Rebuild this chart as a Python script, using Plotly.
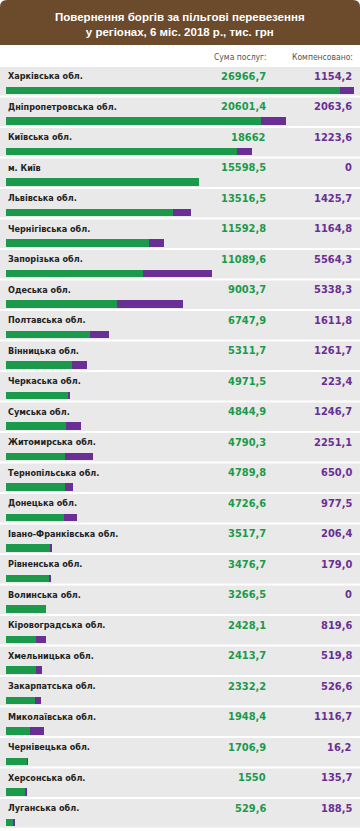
import plotly.graph_objects as go

regions = [
    "Харківська обл.", "Дніпропетровська обл.", "Київська обл.", "м. Київ",
    "Львівська обл.", "Чернігівська обл.", "Запорізька обл.", "Одеська обл.",
    "Полтавська обл.", "Вінницька обл.", "Черкаська обл.", "Сумська обл.",
    "Житомирська обл.", "Тернопільська обл.", "Донецька обл.",
    "Івано-Франківська обл.", "Рівненська обл.", "Волинська обл.",
    "Кіровоградська обл.", "Хмельницька обл.", "Закарпатська обл.",
    "Миколаївська обл.", "Чернівецька обл.", "Херсонська обл.", "Луганська обл.",
]
services = [
    26966.7, 20601.4, 18662, 15598.5, 13516.5, 11592.8, 11089.6, 9003.7,
    6747.9, 5311.7, 4971.5, 4844.9, 4790.3, 4789.8, 4726.6, 3517.7,
    3476.7, 3266.5, 2428.1, 2413.7, 2332.2, 1948.4, 1706.9, 1550, 529.6,
]
compensated = [
    1154.2, 2063.6, 1223.6, 0, 1425.7, 1164.8, 5564.3, 5338.3,
    1611.8, 1261.7, 223.4, 1246.7, 2251.1, 650.0, 977.5, 206.4,
    179.0, 0, 819.6, 519.8, 526.6, 1116.7, 16.2, 135.7, 188.5,
]
services_text = [
    "26966,7", "20601,4", "18662", "15598,5", "13516,5", "11592,8", "11089,6",
    "9003,7", "6747,9", "5311,7", "4971,5", "4844,9", "4790,3", "4789,8",
    "4726,6", "3517,7", "3476,7", "3266,5", "2428,1", "2413,7", "2332,2",
    "1948,4", "1706,9", "1550", "529,6",
]
compensated_text = [
    "1154,2", "2063,6", "1223,6", "0", "1425,7", "1164,8", "5564,3", "5338,3",
    "1611,8", "1261,7", "223,4", "1246,7", "2251,1", "650,0", "977,5", "206,4",
    "179,0", "0", "819,6", "519,8", "526,6", "1116,7", "16,2", "135,7", "188,5",
]
title = "Повернення боргів за пільгові перевезення<br>у регіонах, 6 міс. 2018 р., тис. грн"
col_headers = ["Сума послуг:", "Компенсовано:"]

W, H = 360, 831
GREEN = "#1c9a4b"
PURPLE = "#6a2f94"
BROWN = "#6c4a2c"
BAND = "#e9e9e9"
FONT = "Liberation Sans Narrow, DejaVu Sans Condensed, Arial Narrow, sans-serif"

n = len(regions)
idx = list(range(n))
top_px, bottom_px = 67, 829.5
x0_px, x1_px = 6, 354

def px_x(p):
    return p / W

def px_y(p):
    return 1 - p / H

fig = go.Figure()
fig.add_trace(go.Bar(
    y=idx, x=services, orientation="h", marker=dict(color=GREEN, line=dict(width=0)),
    width=0.25, offset=0.14, hoverinfo="skip", name="Сума послуг",
))
fig.add_trace(go.Bar(
    y=idx, x=compensated, orientation="h", marker=dict(color=PURPLE, line=dict(width=0)),
    width=0.25, offset=0.14, hoverinfo="skip", name="Компенсовано",
))

total_max = max(s + c for s, c in zip(services, compensated))

shapes = []
r = 7
tb = 45
rx, ry = r / W, r / H
path = (
    f"M 0,{px_y(tb)} L 0,{1 - ry} Q 0,1 {rx},1 L {1 - rx},1 Q 1,1 1,{1 - ry} "
    f"L 1,{px_y(tb)} Z"
)
shapes.append(dict(type="path", path=path, xref="paper", yref="paper",
                   fillcolor=BROWN, line=dict(width=0), layer="below"))
gap = 2 / ((bottom_px - top_px) / n)
for i in idx:
    shapes.append(dict(type="rect", xref="paper", yref="y", x0=0, x1=1,
                       y0=i - 0.5, y1=i + 0.5 - gap, fillcolor=BAND,
                       line=dict(width=0), layer="below"))

annotations = [
    dict(text=f"<b>{title}</b>", x=0.5, y=px_y(25), xref="paper", yref="paper",
         showarrow=False, font=dict(family="Liberation Sans, Arial, sans-serif", size=11.5, color="white"),
         xanchor="center", yanchor="middle", align="center"),
    dict(text=col_headers[0], x=px_x(269), y=px_y(57), xref="paper", yref="paper",
         showarrow=False, xanchor="right", yanchor="middle",
         font=dict(family=FONT, size=8.5, color="#555555")),
    dict(text=col_headers[1], x=px_x(355), y=px_y(57), xref="paper", yref="paper",
         showarrow=False, xanchor="right", yanchor="middle",
         font=dict(family=FONT, size=8.5, color="#555555")),
]
for i in idx:
    annotations.append(dict(text=f"<b>{regions[i]}</b>", x=px_x(6), xref="paper", y=i - 0.2, yref="y",
                            showarrow=False, xanchor="left", yanchor="middle",
                            font=dict(family=FONT, size=9, color="#222222")))
    annotations.append(dict(text=f"<b>{services_text[i]}</b>", x=px_x(268), xref="paper", y=i - 0.2, yref="y",
                            showarrow=False, xanchor="right", yanchor="middle",
                            font=dict(family=FONT, size=11, color=GREEN)))
    annotations.append(dict(text=f"<b>{compensated_text[i]}</b>", x=px_x(354), xref="paper", y=i - 0.2, yref="y",
                            showarrow=False, xanchor="right", yanchor="middle",
                            font=dict(family=FONT, size=11, color=PURPLE)))

fig.update_layout(
    width=W, height=H, margin=dict(l=0, r=0, t=0, b=0),
    paper_bgcolor="white", plot_bgcolor="rgba(0,0,0,0)",
    barmode="stack", showlegend=False, bargap=0,
    xaxis=dict(domain=[x0_px / W, x1_px / W], range=[0, total_max], visible=False, fixedrange=True),
    yaxis=dict(domain=[1 - bottom_px / H, 1 - top_px / H], range=[n - 0.5, -0.5],
               visible=False, fixedrange=True),
    shapes=shapes, annotations=annotations,
)
fig.write_html(
    "out.html",
    config={"displayModeBar": False},
    post_script="document.body.style.margin='0';document.body.style.overflow='hidden';",
)
